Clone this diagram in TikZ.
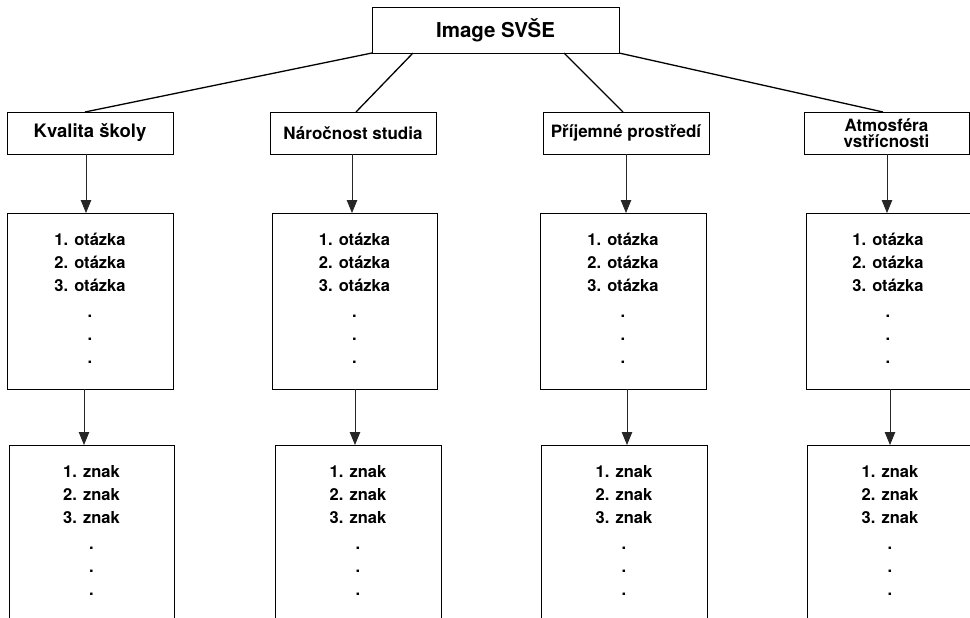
\documentclass[tikz,border=0pt]{standalone}
\usepackage{fontspec}
\setmainfont{TeX Gyre Heros}
\usetikzlibrary{arrows.meta}
\begin{document}
\begin{tikzpicture}[x=1pt,y=-1pt,
  box/.style={draw=black,line width=0.9pt,rectangle,inner sep=0pt,outer sep=0pt,align=center,font=\bfseries},
  topbox/.style={box,minimum width=247pt,minimum height=46pt,font=\bfseries\fontsize{20.5}{24}\selectfont},
  catbox/.style={box,minimum width=166pt,minimum height=42pt,font=\bfseries\fontsize{17}{16.5}\selectfont},
  listbox/.style={box,minimum width=166pt,minimum height=176pt,font=\bfseries\fontsize{16.5}{23}\selectfont},
  link/.style={line width=1.3pt,draw=black},
  arr/.style={line width=0.8pt,draw=black!85,-{Triangle[width=10.5pt,length=13pt]}}
]
\useasboundingbox (0,0) rectangle (970,618);
\clip (0,0) rectangle (970,618);
\fill[white] (0,0) rectangle (970,618);

\newcommand{\qlist}{1. otázka\\2. otázka\\3. otázka\\[3pt].\\.\\.\rule[-6pt]{0pt}{6pt}}
\newcommand{\zlist}{1. znak\\2. znak\\3. znak\\[3pt].\\.\\.\rule[-6pt]{0pt}{6pt}}

\node[topbox] (top) at (495.5,30) {Image SVŠE};

\node[catbox,font=\bfseries\fontsize{18.5}{20}\selectfont] (k1) at (90,133) {Kvalita školy};
\node[catbox] (k2) at (353,133) {Náročnost studia};
\node[catbox] (k3) at (626,133) {Příjemné prostředí};
\node[catbox,minimum width=165pt] (k4) at (886.5,133) {Atmosféra\\vstřícnosti};

\node[listbox] (q1) at (90,301) {\qlist};
\node[listbox,minimum width=165pt] (q2) at (354.5,301) {\qlist};
\node[listbox] (q3) at (623,301) {\qlist};
\node[listbox,minimum width=164pt] (q4) at (888,301) {\qlist};

\node[listbox,minimum width=165pt] (z1) at (91.5,533) {\zlist};
\node[listbox] (z2) at (358,533) {\zlist};
\node[listbox] (z3) at (624,533) {\zlist};
\node[listbox] (z4) at (890,533) {\zlist};

\draw[link] (top.south west) -- ([xshift=-5pt]k1.north);
\draw[link] ([xshift=41pt]top.south west) -- ([xshift=3pt]k2.north);
\draw[link] ([xshift=-55pt]top.south east) -- ([xshift=-3pt]k3.north);
\draw[link] (top.south east) -- ([xshift=-3.5pt]k4.north);

\coordinate (a1) at (86,0);
\coordinate (a2) at (352,0);
\coordinate (a3) at (626,0);
\coordinate (a4) at (887,0);
\coordinate (b1) at (84,0);
\coordinate (b2) at (355,0);
\coordinate (b3) at (627,0);
\coordinate (b4) at (890,0);

\draw[arr] (k1.south -| a1) -- (q1.north -| a1);
\draw[arr] (k2.south -| a2) -- (q2.north -| a2);
\draw[arr] (k3.south -| a3) -- (q3.north -| a3);
\draw[arr] (k4.south -| a4) -- (q4.north -| a4);

\draw[arr] (q1.south -| b1) -- (z1.north -| b1);
\draw[arr] (q2.south -| b2) -- (z2.north -| b2);
\draw[arr] (q3.south -| b3) -- (z3.north -| b3);
\draw[arr] (q4.south -| b4) -- (z4.north -| b4);
\end{tikzpicture}
\end{document}
